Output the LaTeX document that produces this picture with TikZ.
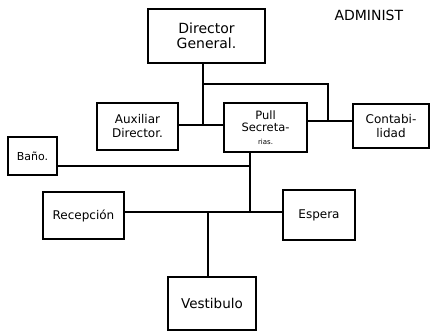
\documentclass[tikz,border=0pt]{standalone}
\usepackage{fontspec}
\setmainfont{DejaVu Sans}
\begin{document}
\begin{tikzpicture}[x=1pt,y=-1pt,
  box/.style={draw, line width=1.4pt, rectangle, inner sep=2pt, align=center, font=\fontsize{14}{15}\selectfont},
  conn/.style={line width=1.2pt}]
\clip (0,0) rectangle (430,332);
\fill[white] (0,0) rectangle (430,332);
\node[box, minimum width=117pt, minimum height=54pt] (dir) at (206.5,36) {Director\\General.};
\node[box, minimum width=81pt, minimum height=47pt, font=\fontsize{12}{14}\selectfont] (aux) at (137.5,126.5) {Auxiliar\\Director.};
\node[box, minimum width=83pt, minimum height=49pt, font=\fontsize{11.5}{12.5}\selectfont] (pull) at (265.5,127.5) {Pull\\Secreta-\\{\fontsize{7}{7}\selectfont rias.}};
\node[box, minimum width=76pt, minimum height=44pt, font=\fontsize{12}{14}\selectfont] (cont) at (391,126) {Contabi-\\lidad};
\node[box, minimum width=49pt, minimum height=38pt, font=\fontsize{11}{13}\selectfont] (bano) at (32.5,156) {Baño.};
\node[box, minimum width=81pt, minimum height=47pt, font=\fontsize{12}{14}\selectfont] (rec) at (83.5,215.5) {Recepción};
\node[box, minimum width=72pt, minimum height=50pt, font=\fontsize{12}{14}\selectfont] (esp) at (319,215) {Espera};
\node[box, minimum width=88pt, minimum height=53pt, font=\fontsize{13.5}{15}\selectfont] (vest) at (212,303.5) {Vestibulo};
\node[anchor=west, font=\fontsize{14}{15}\selectfont] (title) at (331,15) {ADMINIST};
\coordinate (j1) at (203,125);
\coordinate (j2) at (203,84);
\coordinate (j3) at (328,84);
\coordinate (j4) at (328,121);
\coordinate (j5) at (250,212);
\coordinate (j6) at (250,166);
\coordinate (j7) at (208,212);
\draw[conn] (dir.south -| j1) -- (j1);
\draw[conn] (j2) -- (j3) -- (j4);
\draw[conn] (aux.east |- j1) -- (pull.west |- j1);
\draw[conn] (pull.east |- j4) -- (cont.west |- j4);
\draw[conn] (pull.south -| j5) -- (j5);
\draw[conn] (bano.east |- j6) -- (j6);
\draw[conn] (rec.east |- j5) -- (esp.west |- j5);
\draw[conn] (j7) -- (vest.north -| j7);
\end{tikzpicture}
\end{document}
